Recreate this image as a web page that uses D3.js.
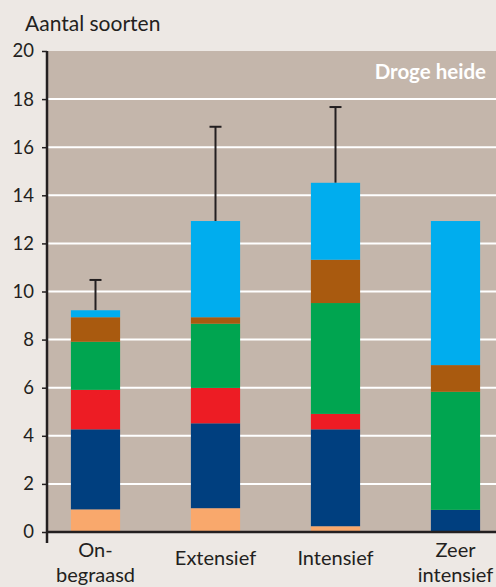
<!DOCTYPE html>
<html>
<head>
<meta charset="utf-8">
<script src="https://cdn.jsdelivr.net/npm/d3@7"></script>
<style>
  html, body { margin: 0; padding: 0; background: #ede8e4; }
  svg { display: block; font-family: Lato, "Open Sans", sans-serif; }
</style>
</head>
<body>
<div id="graf"></div>
<script>
// categorieën (x-as)
const categorieen = ["On-begraasd", "Extensief", "Intensief", "Zeer intensief"];
const labels = [["On-", "begraasd"], ["Extensief"], ["Intensief"], ["Zeer", "intensief"]];

// segmenten per groep, van onder naar boven (aantal soorten)
const oranje    = [0.94, 0.99, 0.24, 0.00];
const donkerblauw = [3.33, 3.53, 4.03, 0.92];
const rood      = [1.64, 1.47, 0.64, 0.00];
const groen     = [2.00, 2.67, 4.61, 4.91];
const bruin     = [1.02, 0.27, 1.80, 1.11];
const lichtblauw = [0.29, 4.00, 3.20, 5.99];

// bovenkant foutbalk (null = geen)
const foutTop = [10.48, 16.85, 17.67, null];

const yTicks = [0, 2, 4, 6, 8, 10, 12, 14, 16, 18, 20];

const series = ["oranje", "donkerblauw", "rood", "groen", "bruin", "lichtblauw"];
const kleuren = ["#f9a86c", "#003f7f", "#ed1c24", "#00a550", "#a95a0f", "#00adee"];
const waarden = { oranje, donkerblauw, rood, groen, bruin, lichtblauw };

const tabel = categorieen.map((c, i) => {
  const r = { cat: c };
  series.forEach(s => r[s] = waarden[s][i]);
  return r;
});

const W = 496, H = 587;
const mLeft = 47, mTop = 51, mBottom = 532, mRight = 496;

const svg = d3.select("#graf").append("svg").attr("width", W).attr("height", H);

const x = d3.scaleBand().domain(categorieen).range([35.5, 515.5])
  .paddingInner(0.59).paddingOuter(0.295);
const y = d3.scaleLinear().domain([0, 20]).range([mBottom, mTop]);

// achtergrond plot
svg.append("rect").attr("x", mLeft).attr("y", mTop)
  .attr("width", mRight - mLeft).attr("height", mBottom - mTop)
  .attr("fill", "#c4b6ab");

// rasterlijnen
svg.append("g").selectAll("line")
  .data(yTicks.filter(t => t > 0 && t < 20))
  .join("line")
  .attr("x1", mLeft).attr("x2", mRight)
  .attr("y1", d => y(d)).attr("y2", d => y(d))
  .attr("stroke", "#fff").attr("stroke-width", 2);

// titel in plot
svg.append("text").attr("x", 486).attr("y", 79)
  .attr("text-anchor", "end").attr("fill", "#fff")
  .attr("font-weight", "bold").attr("font-size", 20.5)
  .text("Droge heide");

// foutbalken
const fb = svg.append("g").attr("stroke", "#231f20").attr("stroke-width", 2);
tabel.forEach((d, i) => {
  if (foutTop[i] == null) return;
  const cx = x(d.cat) + x.bandwidth() / 2;
  const totaal = d3.sum(series, s => d[s]);
  fb.append("line").attr("x1", cx).attr("x2", cx)
    .attr("y1", y(totaal)).attr("y2", y(foutTop[i]));
  fb.append("line").attr("x1", cx - 6).attr("x2", cx + 6)
    .attr("y1", y(foutTop[i])).attr("y2", y(foutTop[i]));
});

// gestapelde staven
const stack = d3.stack().keys(series)(tabel);
svg.append("g").selectAll("g")
  .data(stack)
  .join("g")
  .attr("fill", (d, i) => kleuren[i])
  .selectAll("rect")
  .data(d => d)
  .join("rect")
  .attr("x", d => x(d.data.cat))
  .attr("width", x.bandwidth())
  .attr("y", d => y(d[1]))
  .attr("height", d => y(d[0]) - y(d[1]));

// y-as
const yAxis = d3.axisLeft(y).tickValues(yTicks).tickSize(5).tickPadding(8);
const ga = svg.append("g").attr("transform", `translate(${mLeft},0)`).call(yAxis);
ga.select(".domain").remove();
ga.selectAll(".tick line").attr("stroke", "#231f20").attr("stroke-width", 1.5);
ga.selectAll(".tick text").attr("font-size", 18.5).attr("fill", "#231f20")
  .attr("font-family", "Lato, 'Open Sans', sans-serif");

// aslijnen
svg.append("line").attr("x1", mLeft).attr("x2", mLeft).attr("y1", mTop).attr("y2", 543)
  .attr("stroke", "#231f20").attr("stroke-width", 2.5);
svg.append("line").attr("x1", mLeft).attr("x2", mRight).attr("y1", mBottom).attr("y2", mBottom)
  .attr("stroke", "#231f20").attr("stroke-width", 2.5);

// x-labels
const xl = svg.append("g").attr("fill", "#231f20").attr("font-size", 20).attr("text-anchor", "middle");
tabel.forEach((d, i) => {
  const cx = x(d.cat) + x.bandwidth() / 2;
  const regels = labels[i];
  regels.forEach((r, j) => {
    xl.append("text").attr("x", cx)
      .attr("y", regels.length === 1 ? 565 : 557 + j * 25)
      .text(r);
  });
});

// y-as titel
svg.append("text").attr("x", 25).attr("y", 31)
  .attr("font-size", 21).attr("fill", "#231f20")
  .text("Aantal soorten");
</script>
</body>
</html>
